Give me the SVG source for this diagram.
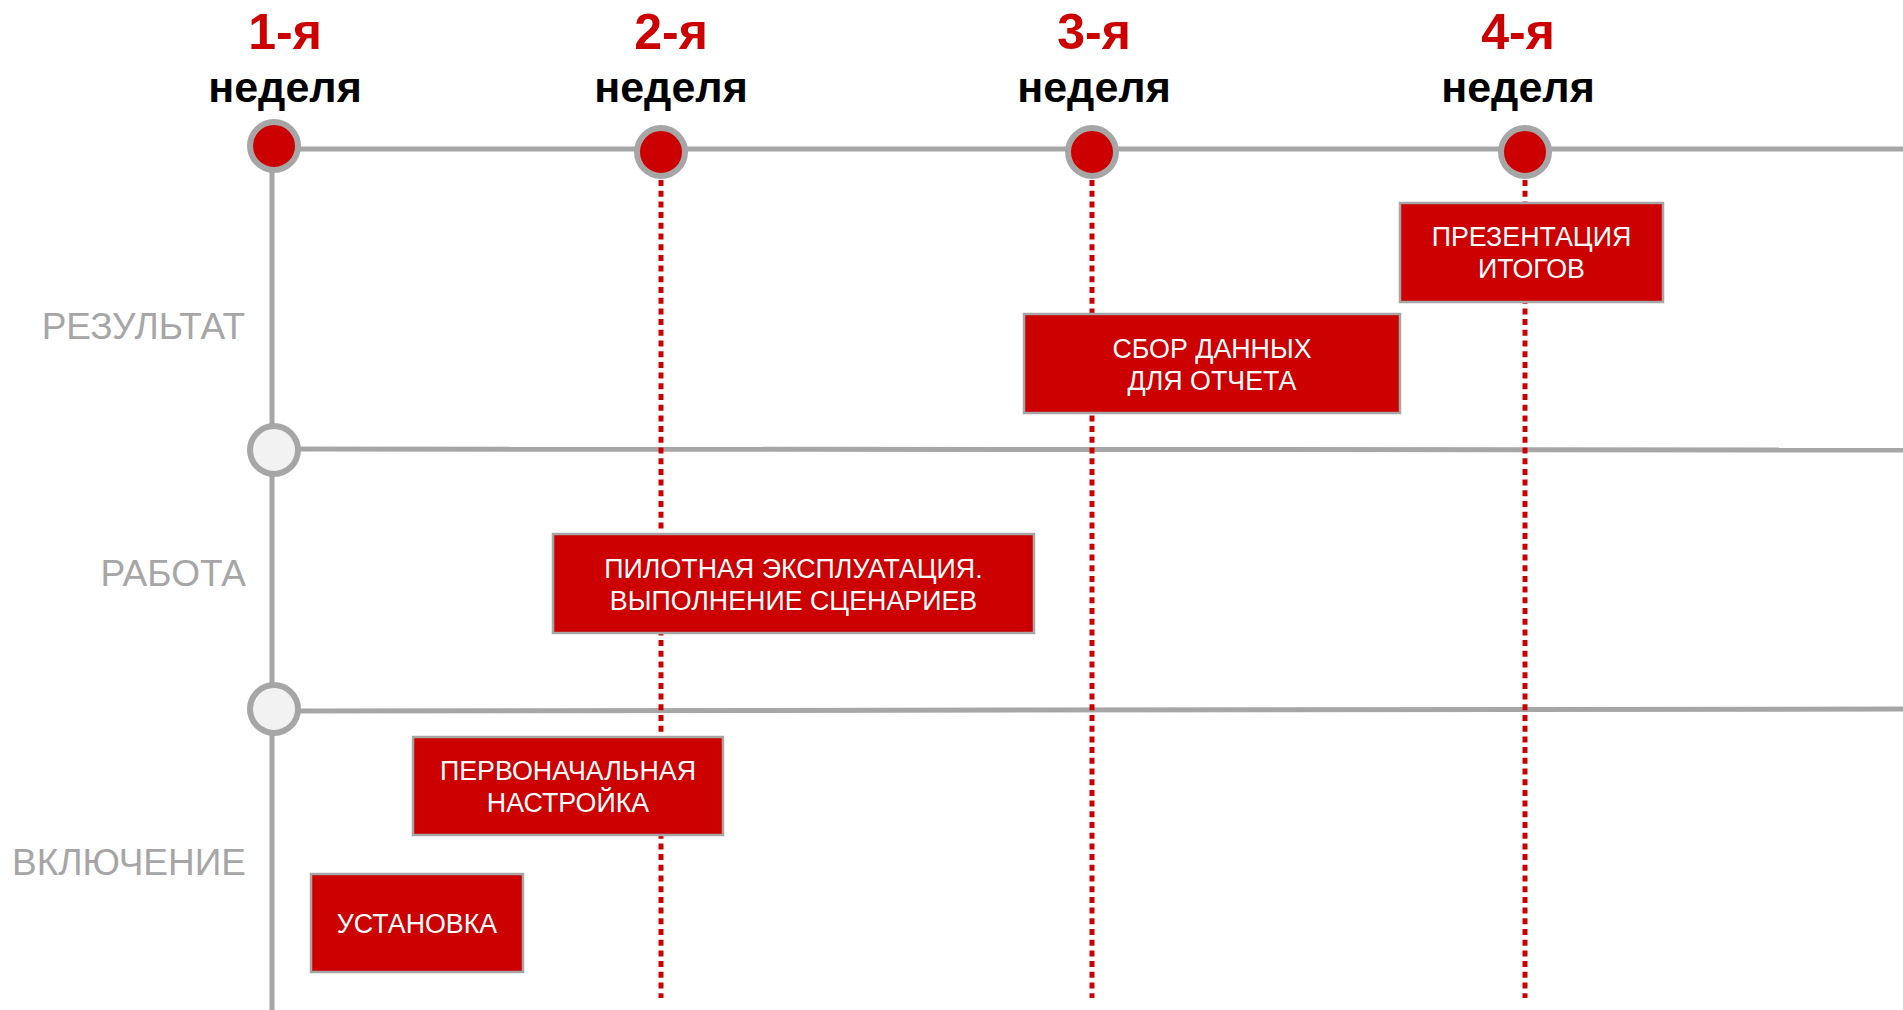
<svg xmlns="http://www.w3.org/2000/svg" width="1903" height="1010" viewBox="0 0 1903 1010">
  <defs>
    <style>
      .axis { stroke: #A6A6A6; stroke-width: 5; fill: none; }
      .guide { stroke: #CC0000; stroke-width: 5; stroke-dasharray: 6 4.7; fill: none; }
      .milestone { fill: #CC0000; stroke: #A6A6A6; stroke-width: 6; }
      .phase-dot { fill: #F2F2F2; stroke: #A6A6A6; stroke-width: 6; }
      .task rect { fill: #CC0000; stroke: #A6A6A6; stroke-width: 2.5; }
      .task text { fill: #FFFFFF; font-family: "Liberation Sans", Arial, sans-serif; font-size: 26.8px; text-anchor: middle; }
      .week-num { fill: #CC0000; font-family: "Liberation Sans", Arial, sans-serif; font-weight: bold; font-size: 50px; text-anchor: middle; }
      .week-word { fill: #000000; font-family: "Liberation Sans", Arial, sans-serif; font-weight: bold; font-size: 43px; text-anchor: middle; }
      .phase { fill: #A6A6A6; font-family: "Liberation Sans", Arial, sans-serif; font-size: 37px; text-anchor: end; }
    </style>
  </defs>
  <rect width="1903" height="1010" fill="#FFFFFF"/>

  <!-- axes and week guides -->
  <g id="connectors">
    <line class="axis" x1="272" y1="146" x2="272" y2="1010"/>
    <line class="axis" x1="274" y1="149" x2="1903" y2="149"/>
    <line class="axis" x1="274" y1="449" x2="1903" y2="450"/>
    <line class="axis" x1="274" y1="711" x2="1903" y2="709"/>
    <line class="guide" x1="661" y1="180" x2="661" y2="998"/>
    <line class="guide" x1="1092" y1="180" x2="1092" y2="998"/>
    <line class="guide" x1="1525" y1="180" x2="1525" y2="998"/>
  </g>

  <!-- phase labels -->
  <g id="phase-result">
    <text class="phase" x="245" y="339">РЕЗУЛЬТАТ</text>
  </g>
  <g id="phase-work">
    <text class="phase" x="246" y="586">РАБОТА</text>
  </g>
  <g id="phase-start">
    <text class="phase" x="246" y="875">ВКЛЮЧЕНИЕ</text>
  </g>

  <!-- phase markers -->
  <g id="marker-work">
    <circle class="phase-dot" cx="274" cy="450" r="24"/>
  </g>
  <g id="marker-start">
    <circle class="phase-dot" cx="274" cy="709" r="24"/>
  </g>

  <!-- weeks -->
  <g id="week-1">
    <text class="week-num" x="285" y="49">1-я</text>
    <text class="week-word" x="285" y="102">неделя</text>
    <circle class="milestone" cx="274" cy="146" r="24"/>
  </g>
  <g id="week-2">
    <text class="week-num" x="671" y="49">2-я</text>
    <text class="week-word" x="671" y="102">неделя</text>
    <circle class="milestone" cx="661" cy="152" r="24"/>
  </g>
  <g id="week-3">
    <text class="week-num" x="1094" y="49">3-я</text>
    <text class="week-word" x="1094" y="102">неделя</text>
    <circle class="milestone" cx="1092" cy="152" r="24"/>
  </g>
  <g id="week-4">
    <text class="week-num" x="1518" y="49">4-я</text>
    <text class="week-word" x="1518" y="102">неделя</text>
    <circle class="milestone" cx="1525" cy="152" r="24"/>
  </g>

  <!-- tasks -->
  <g id="task-presentation" class="task">
    <rect x="1400" y="203" width="263" height="99"/>
    <text x="1531.5" y="246">ПРЕЗЕНТАЦИЯ</text>
    <text x="1531.5" y="278">ИТОГОВ</text>
  </g>
  <g id="task-data" class="task">
    <rect x="1024" y="314" width="376" height="99"/>
    <text x="1212" y="358">СБОР ДАННЫХ</text>
    <text x="1212" y="390">ДЛЯ ОТЧЕТА</text>
  </g>
  <g id="task-pilot" class="task">
    <rect x="553" y="534" width="481" height="99"/>
    <text x="793.5" y="578">ПИЛОТНАЯ ЭКСПЛУАТАЦИЯ.</text>
    <text x="793.5" y="610">ВЫПОЛНЕНИЕ СЦЕНАРИЕВ</text>
  </g>
  <g id="task-setup" class="task">
    <rect x="413" y="737" width="310" height="98"/>
    <text x="568" y="780">ПЕРВОНАЧАЛЬНАЯ</text>
    <text x="568" y="812">НАСТРОЙКА</text>
  </g>
  <g id="task-install" class="task">
    <rect x="311" y="874" width="212" height="98"/>
    <text x="417" y="933">УСТАНОВКА</text>
  </g>
</svg>
